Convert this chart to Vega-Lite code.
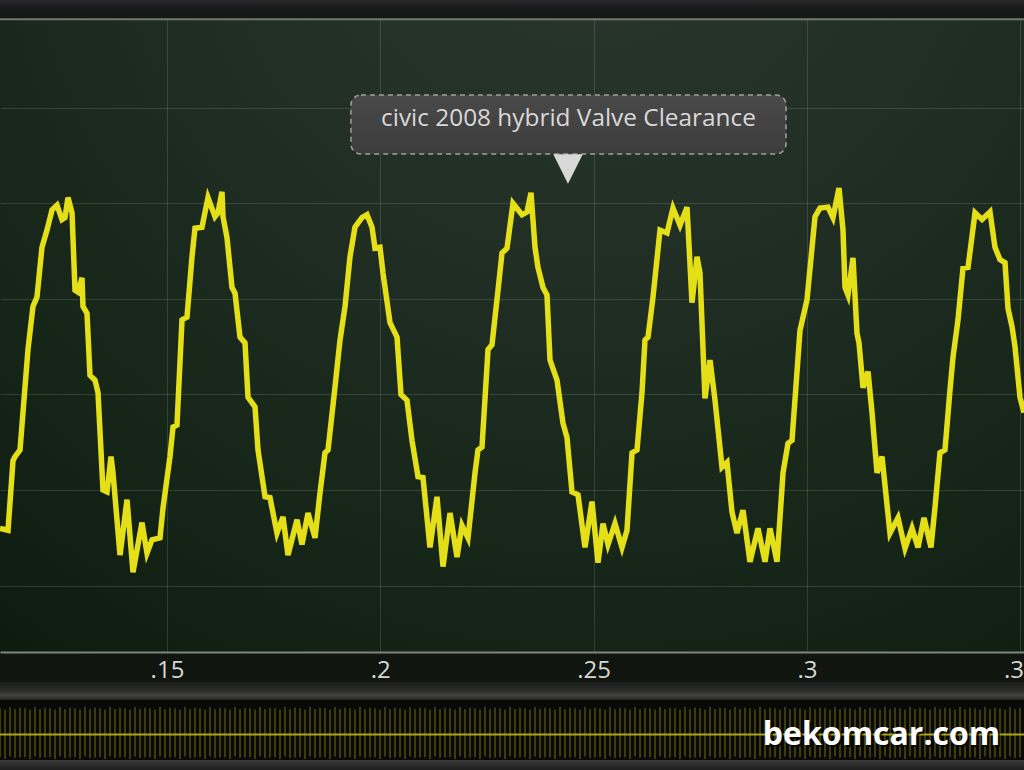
{
"$schema": "https://vega.github.io/schema/vega-lite/v6.json",
"width": 1024, "height": 633,
"autosize": {"type": "none"},
"padding": {"left": 0, "right": 0, "top": 19, "bottom": 118},
"background": "#10160f",
"view": {"stroke": null, "fill": {"gradient": "radial", "x1": 0.58, "y1": 0.05, "r1": 0, "x2": 0.58, "y2": 0.05, "r2": 0.95, "stops": [{"offset": 0, "color": "#2c382f"}, {"offset": 0.45, "color": "#1f2d22"}, {"offset": 0.75, "color": "#152517"}, {"offset": 1, "color": "#0e1c0f"}]}},
"config": {"axis": {"gridColor": "#ffffff", "gridOpacity": 0.13, "gridWidth": 1}},
"resolve": {"scale": {"x": "independent", "y": "independent"}},
"layer": [
{
"data": {"values": [
{"t":0.11086,"v":-1.40},{"t":0.11274,"v":-1.42},{"t":0.11391,"v":-0.69},{"t":0.11438,"v":-0.65},{"t":0.11555,"v":-0.58},{"t":0.11742,"v":0.47},{"t":0.11859,"v":0.92},{"t":0.11953,"v":1.02},{"t":0.12070,"v":1.54},{"t":0.12188,"v":1.72},{"t":0.12305,"v":1.93},{"t":0.12422,"v":1.98},{"t":0.12539,"v":1.83},{"t":0.12609,"v":1.85},{"t":0.12680,"v":2.06},{"t":0.12774,"v":1.90},{"t":0.12844,"v":1.09},{"t":0.12914,"v":1.07},{"t":0.13008,"v":1.22},{"t":0.13031,"v":0.92},{"t":0.13125,"v":0.85},{"t":0.13195,"v":0.20},{"t":0.13313,"v":0.15},{"t":0.13383,"v":0.02},{"t":0.13500,"v":-1.00},{"t":0.13594,"v":-1.02},{"t":0.13688,"v":-0.65},{"t":0.13734,"v":-0.82},{"t":0.13899,"v":-1.68},{"t":0.14063,"v":-1.10},{"t":0.14203,"v":-1.86},{"t":0.14414,"v":-1.34},{"t":0.14531,"v":-1.66},{"t":0.14649,"v":-1.52},{"t":0.14836,"v":-1.50},{"t":0.14906,"v":-1.19},{"t":0.15070,"v":-0.65},{"t":0.15141,"v":-0.34},{"t":0.15234,"v":-0.32},{"t":0.15352,"v":0.78},{"t":0.15469,"v":0.81},{"t":0.15586,"v":1.44},{"t":0.15656,"v":1.74},{"t":0.15820,"v":1.75},{"t":0.15961,"v":2.06},{"t":0.16125,"v":1.86},{"t":0.16195,"v":1.90},{"t":0.16289,"v":2.12},{"t":0.16313,"v":1.86},{"t":0.16406,"v":1.64},{"t":0.16524,"v":1.12},{"t":0.16594,"v":1.06},{"t":0.16711,"v":0.60},{"t":0.16828,"v":0.54},{"t":0.16899,"v":-0.03},{"t":0.17063,"v":-0.13},{"t":0.17133,"v":-0.58},{"t":0.17297,"v":-1.07},{"t":0.17414,"v":-1.08},{"t":0.17578,"v":-1.45},{"t":0.17719,"v":-1.28},{"t":0.17836,"v":-1.68},{"t":0.18047,"v":-1.31},{"t":0.18164,"v":-1.57},{"t":0.18305,"v":-1.24},{"t":0.18469,"v":-1.50},{"t":0.18586,"v":-1.03},{"t":0.18703,"v":-0.61},{"t":0.18774,"v":-0.58},{"t":0.18938,"v":0.08},{"t":0.19055,"v":0.57},{"t":0.19172,"v":0.92},{"t":0.19289,"v":1.44},{"t":0.19406,"v":1.75},{"t":0.19570,"v":1.85},{"t":0.19688,"v":1.88},{"t":0.19805,"v":1.75},{"t":0.19875,"v":1.53},{"t":0.19992,"v":1.54},{"t":0.20063,"v":1.27},{"t":0.20227,"v":0.75},{"t":0.20391,"v":0.60},{"t":0.20484,"v":0.00},{"t":0.20625,"v":-0.06},{"t":0.20742,"v":-0.48},{"t":0.20883,"v":-0.86},{"t":0.21000,"v":-0.87},{"t":0.21164,"v":-1.60},{"t":0.21328,"v":-1.07},{"t":0.21469,"v":-1.80},{"t":0.21633,"v":-1.24},{"t":0.21797,"v":-1.70},{"t":0.21914,"v":-1.37},{"t":0.22055,"v":-1.50},{"t":0.22219,"v":-0.82},{"t":0.22289,"v":-0.58},{"t":0.22383,"v":-0.55},{"t":0.22524,"v":0.47},{"t":0.22617,"v":0.52},{"t":0.22758,"v":1.09},{"t":0.22852,"v":1.48},{"t":0.22969,"v":1.53},{"t":0.23109,"v":2.00},{"t":0.23320,"v":1.88},{"t":0.23438,"v":1.91},{"t":0.23531,"v":2.11},{"t":0.23625,"v":1.54},{"t":0.23695,"v":1.33},{"t":0.23813,"v":1.12},{"t":0.23906,"v":1.04},{"t":0.23977,"v":0.36},{"t":0.24141,"v":0.15},{"t":0.24281,"v":-0.30},{"t":0.24375,"v":-0.45},{"t":0.24492,"v":-1.02},{"t":0.24633,"v":-1.05},{"t":0.24797,"v":-1.60},{"t":0.24961,"v":-1.12},{"t":0.25102,"v":-1.76},{"t":0.25219,"v":-1.35},{"t":0.25336,"v":-1.57},{"t":0.25500,"v":-1.35},{"t":0.25664,"v":-1.60},{"t":0.25781,"v":-1.42},{"t":0.25899,"v":-0.61},{"t":0.26016,"v":-0.58},{"t":0.26133,"v":0.02},{"t":0.26203,"v":0.57},{"t":0.26274,"v":0.60},{"t":0.26391,"v":1.02},{"t":0.26555,"v":1.72},{"t":0.26719,"v":1.69},{"t":0.26859,"v":1.95},{"t":0.27024,"v":1.77},{"t":0.27188,"v":1.96},{"t":0.27305,"v":0.96},{"t":0.27422,"v":1.44},{"t":0.27492,"v":1.27},{"t":0.27609,"v":-0.04},{"t":0.27727,"v":0.36},{"t":0.27844,"v":-0.06},{"t":0.28008,"v":-0.76},{"t":0.28125,"v":-0.71},{"t":0.28242,"v":-1.23},{"t":0.28359,"v":-1.45},{"t":0.28500,"v":-1.21},{"t":0.28664,"v":-1.75},{"t":0.28852,"v":-1.40},{"t":0.29016,"v":-1.75},{"t":0.29133,"v":-1.40},{"t":0.29297,"v":-1.75},{"t":0.29438,"v":-0.82},{"t":0.29555,"v":-0.51},{"t":0.29649,"v":-0.48},{"t":0.29836,"v":0.67},{"t":0.30000,"v":0.99},{"t":0.30188,"v":1.86},{"t":0.30305,"v":1.95},{"t":0.30492,"v":1.96},{"t":0.30609,"v":1.85},{"t":0.30750,"v":2.16},{"t":0.30844,"v":1.72},{"t":0.30891,"v":1.12},{"t":0.30961,"v":1.04},{"t":0.31078,"v":1.43},{"t":0.31172,"v":0.64},{"t":0.31219,"v":0.54},{"t":0.31313,"v":0.07},{"t":0.31430,"v":0.24},{"t":0.31524,"v":-0.19},{"t":0.31641,"v":-0.82},{"t":0.31758,"v":-0.65},{"t":0.31945,"v":-1.45},{"t":0.32133,"v":-1.29},{"t":0.32297,"v":-1.61},{"t":0.32461,"v":-1.40},{"t":0.32602,"v":-1.60},{"t":0.32742,"v":-1.29},{"t":0.32906,"v":-1.60},{"t":0.33000,"v":-1.18},{"t":0.33117,"v":-0.61},{"t":0.33234,"v":-0.58},{"t":0.33352,"v":0.05},{"t":0.33422,"v":0.39},{"t":0.33539,"v":0.78},{"t":0.33656,"v":1.32},{"t":0.33774,"v":1.33},{"t":0.33938,"v":1.90},{"t":0.34102,"v":1.83},{"t":0.34289,"v":1.91},{"t":0.34406,"v":1.54},{"t":0.34524,"v":1.41},{"t":0.34641,"v":1.38},{"t":0.34711,"v":0.90},{"t":0.34805,"v":0.71},{"t":0.34875,"v":0.50},{"t":0.34992,"v":-0.03},{"t":0.35086,"v":-0.19}
]},
"layer": [
{"mark": {"type": "line", "color": "#e4df16", "strokeWidth": 5.5, "strokeJoin": "miter"},
 "encoding": {
  "x": {"field": "t", "type": "quantitative", "scale": {"domain": [0.11086, 0.35086], "nice": false, "zero": false},
        "axis": {"values": [0.15, 0.2, 0.25, 0.3, 0.35], "labelExpr": "slice(format(datum.value, '.2~f'), 1)", "title": null, "ticks": false, "tickSize": 0, "labelPadding": 6, "labelFontSize": 24, "labelFont": "Open Sans", "labelColor": "#d6d6d6", "domainColor": "#7f857d", "domainWidth": 2, "grid": true, "labelFlush": false, "labelOverlap": false, "labelBound": false}},
  "y": {"field": "v", "type": "quantitative", "scale": {"domain": [-2.694, 3.928], "nice": false, "zero": false},
        "axis": {"values": [-2, -1, 0, 1, 2, 3], "labels": false, "ticks": false, "domain": false, "title": null, "grid": true}}
 }},
{"data": {"values": [{}]},
 "mark": {"type": "rect", "fill": {"gradient": "linear", "x1": 0, "y1": 0, "x2": 0, "y2": 1, "stops": [{"offset": 0, "color": "#2c2930"}, {"offset": 0.35, "color": "#1a1c1b"}, {"offset": 1, "color": "#121813"}]}},
 "encoding": {"x": {"datum": 0.11086, "type": "quantitative"}, "x2": {"datum": 0.35086}, "y": {"datum": 4.127, "type": "quantitative"}, "y2": {"datum": 3.928}}},
{"data": {"values": [{}]},
 "mark": {"type": "rule", "color": "#737971", "strokeWidth": 2},
 "encoding": {"y": {"datum": 3.925, "type": "quantitative"}}},
{"data": {"values": [{}]},
 "mark": {"type": "rect", "fill": {"gradient": "linear", "x1": 0, "y1": 0, "x2": 0, "y2": 1, "stops": [{"offset": 0, "color": "#4a4a4a"}, {"offset": 1, "color": "#3d3d3d"}]}, "fillOpacity": 0.95, "stroke": "#a0a0a0", "strokeWidth": 1.5, "strokeDash": [5, 4], "cornerRadius": 10},
 "encoding": {"x": {"datum": 0.19312, "type": "quantitative"}, "x2": {"datum": 0.29508}, "y": {"datum": 3.133, "type": "quantitative"}, "y2": {"datum": 2.516}}},
{"data": {"values": [{}]},
 "mark": {"type": "point", "shape": "M-1,-1L1,-1L0,1Z", "size": 870, "filled": true, "fill": "#d8d8d8", "opacity": 1, "strokeWidth": 0},
 "encoding": {"x": {"datum": 0.24398, "type": "quantitative"}, "y": {"datum": 2.359, "type": "quantitative"}}},
{"data": {"values": [{"label": "civic 2008 hybrid Valve Clearance"}]},
 "mark": {"type": "text", "font": "Open Sans", "fontSize": 24.4, "fill": "#d8d8d8", "align": "center", "baseline": "alphabetic"},
 "encoding": {"x": {"datum": 0.2441, "type": "quantitative"}, "y": {"datum": 2.81, "type": "quantitative"}, "text": {"field": "label"}}}
]
},
{
"data": {"values": [
{"i":0,"lo":-0.93,"hi":0.95},{"i":1,"lo":-1,"hi":0.9},{"i":2,"lo":-0.9,"hi":1},{"i":3,"lo":-0.96,"hi":0.92},{"i":4,"lo":-0.94,"hi":0.97},{"i":5,"lo":-0.93,"hi":0.95},{"i":6,"lo":-1,"hi":0.9},{"i":7,"lo":-0.9,"hi":1},{"i":8,"lo":-0.96,"hi":0.92},{"i":9,"lo":-0.94,"hi":0.97},
{"i":10,"lo":-0.93,"hi":0.95},{"i":11,"lo":-1,"hi":0.9},{"i":12,"lo":-0.9,"hi":1},{"i":13,"lo":-0.96,"hi":0.92},{"i":14,"lo":-0.94,"hi":0.97},{"i":15,"lo":-0.93,"hi":0.95},{"i":16,"lo":-1,"hi":0.9},{"i":17,"lo":-0.9,"hi":1},{"i":18,"lo":-0.96,"hi":0.92},{"i":19,"lo":-0.94,"hi":0.97},
{"i":20,"lo":-0.93,"hi":0.95},{"i":21,"lo":-1,"hi":0.9},{"i":22,"lo":-0.9,"hi":1},{"i":23,"lo":-0.96,"hi":0.92},{"i":24,"lo":-0.94,"hi":0.97},{"i":25,"lo":-0.93,"hi":0.95},{"i":26,"lo":-1,"hi":0.9},{"i":27,"lo":-0.9,"hi":1},{"i":28,"lo":-0.96,"hi":0.92},{"i":29,"lo":-0.94,"hi":0.97},
{"i":30,"lo":-0.93,"hi":0.95},{"i":31,"lo":-1,"hi":0.9},{"i":32,"lo":-0.9,"hi":1},{"i":33,"lo":-0.96,"hi":0.92},{"i":34,"lo":-0.94,"hi":0.97},{"i":35,"lo":-0.93,"hi":0.95},{"i":36,"lo":-1,"hi":0.9},{"i":37,"lo":-0.9,"hi":1},{"i":38,"lo":-0.96,"hi":0.92},{"i":39,"lo":-0.94,"hi":0.97},
{"i":40,"lo":-0.93,"hi":0.95},{"i":41,"lo":-1,"hi":0.9},{"i":42,"lo":-0.9,"hi":1},{"i":43,"lo":-0.96,"hi":0.92},{"i":44,"lo":-0.94,"hi":0.97},{"i":45,"lo":-0.93,"hi":0.95},{"i":46,"lo":-1,"hi":0.9},{"i":47,"lo":-0.9,"hi":1},{"i":48,"lo":-0.96,"hi":0.92},{"i":49,"lo":-0.94,"hi":0.97},
{"i":50,"lo":-0.93,"hi":0.95},{"i":51,"lo":-1,"hi":0.9},{"i":52,"lo":-0.9,"hi":1},{"i":53,"lo":-0.96,"hi":0.92},{"i":54,"lo":-0.94,"hi":0.97},{"i":55,"lo":-0.93,"hi":0.95},{"i":56,"lo":-1,"hi":0.9},{"i":57,"lo":-0.9,"hi":1},{"i":58,"lo":-0.96,"hi":0.92},{"i":59,"lo":-0.94,"hi":0.97},
{"i":60,"lo":-0.93,"hi":0.95},{"i":61,"lo":-1,"hi":0.9},{"i":62,"lo":-0.9,"hi":1},{"i":63,"lo":-0.96,"hi":0.92},{"i":64,"lo":-0.94,"hi":0.97},{"i":65,"lo":-0.93,"hi":0.95},{"i":66,"lo":-1,"hi":0.9},{"i":67,"lo":-0.9,"hi":1},{"i":68,"lo":-0.96,"hi":0.92},{"i":69,"lo":-0.94,"hi":0.97},
{"i":70,"lo":-0.93,"hi":0.95},{"i":71,"lo":-1,"hi":0.9},{"i":72,"lo":-0.9,"hi":1},{"i":73,"lo":-0.96,"hi":0.92},{"i":74,"lo":-0.94,"hi":0.97},{"i":75,"lo":-0.93,"hi":0.95},{"i":76,"lo":-1,"hi":0.9},{"i":77,"lo":-0.9,"hi":1},{"i":78,"lo":-0.96,"hi":0.92},{"i":79,"lo":-0.94,"hi":0.97},
{"i":80,"lo":-0.93,"hi":0.95},{"i":81,"lo":-1,"hi":0.9},{"i":82,"lo":-0.9,"hi":1},{"i":83,"lo":-0.96,"hi":0.92},{"i":84,"lo":-0.94,"hi":0.97},{"i":85,"lo":-0.93,"hi":0.95},{"i":86,"lo":-1,"hi":0.9},{"i":87,"lo":-0.9,"hi":1},{"i":88,"lo":-0.96,"hi":0.92},{"i":89,"lo":-0.94,"hi":0.97},
{"i":90,"lo":-0.93,"hi":0.95},{"i":91,"lo":-1,"hi":0.9},{"i":92,"lo":-0.9,"hi":1},{"i":93,"lo":-0.96,"hi":0.92},{"i":94,"lo":-0.94,"hi":0.97},{"i":95,"lo":-0.93,"hi":0.95},{"i":96,"lo":-1,"hi":0.9},{"i":97,"lo":-0.9,"hi":1},{"i":98,"lo":-0.96,"hi":0.92},{"i":99,"lo":-0.94,"hi":0.97},
{"i":100,"lo":-0.93,"hi":0.95},{"i":101,"lo":-1,"hi":0.9},{"i":102,"lo":-0.9,"hi":1},{"i":103,"lo":-0.96,"hi":0.92},{"i":104,"lo":-0.94,"hi":0.97},{"i":105,"lo":-0.93,"hi":0.95},{"i":106,"lo":-1,"hi":0.9},{"i":107,"lo":-0.9,"hi":1},{"i":108,"lo":-0.96,"hi":0.92},{"i":109,"lo":-0.94,"hi":0.97},
{"i":110,"lo":-0.93,"hi":0.95},{"i":111,"lo":-1,"hi":0.9},{"i":112,"lo":-0.9,"hi":1},{"i":113,"lo":-0.96,"hi":0.92},{"i":114,"lo":-0.94,"hi":0.97},{"i":115,"lo":-0.93,"hi":0.95},{"i":116,"lo":-1,"hi":0.9},{"i":117,"lo":-0.9,"hi":1},{"i":118,"lo":-0.96,"hi":0.92},{"i":119,"lo":-0.94,"hi":0.97},
{"i":120,"lo":-0.93,"hi":0.95},{"i":121,"lo":-1,"hi":0.9},{"i":122,"lo":-0.9,"hi":1},{"i":123,"lo":-0.96,"hi":0.92},{"i":124,"lo":-0.94,"hi":0.97},{"i":125,"lo":-0.93,"hi":0.95},{"i":126,"lo":-1,"hi":0.9},{"i":127,"lo":-0.9,"hi":1},{"i":128,"lo":-0.96,"hi":0.92},{"i":129,"lo":-0.94,"hi":0.97},
{"i":130,"lo":-0.93,"hi":0.95},{"i":131,"lo":-1,"hi":0.9},{"i":132,"lo":-0.9,"hi":1},{"i":133,"lo":-0.96,"hi":0.92},{"i":134,"lo":-0.94,"hi":0.97},{"i":135,"lo":-0.93,"hi":0.95},{"i":136,"lo":-1,"hi":0.9},{"i":137,"lo":-0.9,"hi":1},{"i":138,"lo":-0.96,"hi":0.92},{"i":139,"lo":-0.94,"hi":0.97},
{"i":140,"lo":-0.93,"hi":0.95},{"i":141,"lo":-1,"hi":0.9},{"i":142,"lo":-0.9,"hi":1},{"i":143,"lo":-0.96,"hi":0.92},{"i":144,"lo":-0.94,"hi":0.97},{"i":145,"lo":-0.93,"hi":0.95},{"i":146,"lo":-1,"hi":0.9},{"i":147,"lo":-0.9,"hi":1},{"i":148,"lo":-0.96,"hi":0.92},{"i":149,"lo":-0.94,"hi":0.97},
{"i":150,"lo":-0.93,"hi":0.95},{"i":151,"lo":-1,"hi":0.9},{"i":152,"lo":-0.9,"hi":1},{"i":153,"lo":-0.96,"hi":0.92},{"i":154,"lo":-0.94,"hi":0.97},{"i":155,"lo":-0.93,"hi":0.95},{"i":156,"lo":-1,"hi":0.9},{"i":157,"lo":-0.9,"hi":1},{"i":158,"lo":-0.96,"hi":0.92},{"i":159,"lo":-0.94,"hi":0.97},
{"i":160,"lo":-0.93,"hi":0.95},{"i":161,"lo":-1,"hi":0.9},{"i":162,"lo":-0.9,"hi":1},{"i":163,"lo":-0.96,"hi":0.92},{"i":164,"lo":-0.94,"hi":0.97},{"i":165,"lo":-0.93,"hi":0.95},{"i":166,"lo":-1,"hi":0.9},{"i":167,"lo":-0.9,"hi":1},{"i":168,"lo":-0.96,"hi":0.92},{"i":169,"lo":-0.94,"hi":0.97},
{"i":170,"lo":-0.93,"hi":0.95},{"i":171,"lo":-1,"hi":0.9},{"i":172,"lo":-0.9,"hi":1},{"i":173,"lo":-0.96,"hi":0.92},{"i":174,"lo":-0.94,"hi":0.97},{"i":175,"lo":-0.93,"hi":0.95},{"i":176,"lo":-1,"hi":0.9},{"i":177,"lo":-0.9,"hi":1},{"i":178,"lo":-0.96,"hi":0.92},{"i":179,"lo":-0.94,"hi":0.97},
{"i":180,"lo":-0.93,"hi":0.95},{"i":181,"lo":-1,"hi":0.9},{"i":182,"lo":-0.9,"hi":1},{"i":183,"lo":-0.96,"hi":0.92},{"i":184,"lo":-0.94,"hi":0.97},{"i":185,"lo":-0.93,"hi":0.95},{"i":186,"lo":-1,"hi":0.9},{"i":187,"lo":-0.9,"hi":1},{"i":188,"lo":-0.96,"hi":0.92},{"i":189,"lo":-0.94,"hi":0.97},
{"i":190,"lo":-0.93,"hi":0.95},{"i":191,"lo":-1,"hi":0.9},{"i":192,"lo":-0.9,"hi":1},{"i":193,"lo":-0.96,"hi":0.92},{"i":194,"lo":-0.94,"hi":0.97},{"i":195,"lo":-0.93,"hi":0.95},{"i":196,"lo":-1,"hi":0.9},{"i":197,"lo":-0.9,"hi":1},{"i":198,"lo":-0.96,"hi":0.92},{"i":199,"lo":-0.94,"hi":0.97},
{"i":200,"lo":-0.93,"hi":0.95},{"i":201,"lo":-1,"hi":0.9},{"i":202,"lo":-0.9,"hi":1},{"i":203,"lo":-0.96,"hi":0.92},{"i":204,"lo":-0.94,"hi":0.97}
]},
"layer": [
{"data": {"values": [{}]},
 "mark": {"type": "rect", "fill": {"gradient": "linear", "x1": 0, "y1": 0, "x2": 0, "y2": 1, "stops": [{"offset": 0, "color": "#1c1e1b"}, {"offset": 0.5, "color": "#2b2d2a"}, {"offset": 0.75, "color": "#424341"}, {"offset": 1, "color": "#252624"}]}},
 "encoding": {"x": {"datum": 0, "type": "quantitative", "scale": {"domain": [0, 204.8], "nice": false, "zero": false}, "axis": null}, "x2": {"datum": 204.8}, "y": {"datum": 1.96, "type": "quantitative", "scale": {"domain": [-1, 1], "range": [740, 688], "nice": false, "zero": false}, "axis": null}, "y2": {"datum": 1.27}}},
{"data": {"values": [{}]},
 "mark": {"type": "rect", "fill": "#090a07"},
 "encoding": {"x": {"datum": 0, "type": "quantitative", "axis": null}, "x2": {"datum": 204.8}, "y": {"datum": 1.27, "type": "quantitative", "axis": null}, "y2": {"datum": -1.04}}},
{"data": {"values": [{}]},
 "mark": {"type": "rect", "fill": {"gradient": "linear", "x1": 0, "y1": 0, "x2": 0, "y2": 1, "stops": [{"offset": 0, "color": "#3c3c3c"}, {"offset": 1, "color": "#1e1e1e"}]}},
 "encoding": {"x": {"datum": 0, "type": "quantitative", "axis": null}, "x2": {"datum": 204.8}, "y": {"datum": -1.04, "type": "quantitative", "axis": null}, "y2": {"datum": -1.42}}},
{"mark": {"type": "rule", "color": "#8f8617", "strokeWidth": 1, "opacity": 0.8},
 "encoding": {"x": {"field": "i", "type": "quantitative", "axis": null}, "y": {"field": "lo", "type": "quantitative", "axis": null}, "y2": {"field": "hi"}}},
{"data": {"values": [{}]},
 "mark": {"type": "rule", "color": "#bcb21e", "strokeWidth": 2, "opacity": 0.9},
 "encoding": {"y": {"datum": -0.06, "type": "quantitative", "axis": null}}},
{"data": {"values": [{"w": "bekomcar.com"}]},
 "mark": {"type": "text", "font": "Open Sans", "fontSize": 32, "fontWeight": "bold", "fill": "#000000", "opacity": 0.7, "align": "center", "baseline": "alphabetic", "dx": 2, "dy": 2},
 "encoding": {"x": {"datum": 176.3, "type": "quantitative", "axis": null}, "y": {"datum": -0.46, "type": "quantitative", "axis": null}, "text": {"field": "w"}}},
{"data": {"values": [{"w": "bekomcar.com"}]},
 "mark": {"type": "text", "font": "Open Sans", "fontSize": 32, "fontWeight": "bold", "fill": "#ffffff", "align": "center", "baseline": "alphabetic"},
 "encoding": {"x": {"datum": 176.3, "type": "quantitative", "axis": null}, "y": {"datum": -0.46, "type": "quantitative", "axis": null}, "text": {"field": "w"}}}
]
}
]
}
